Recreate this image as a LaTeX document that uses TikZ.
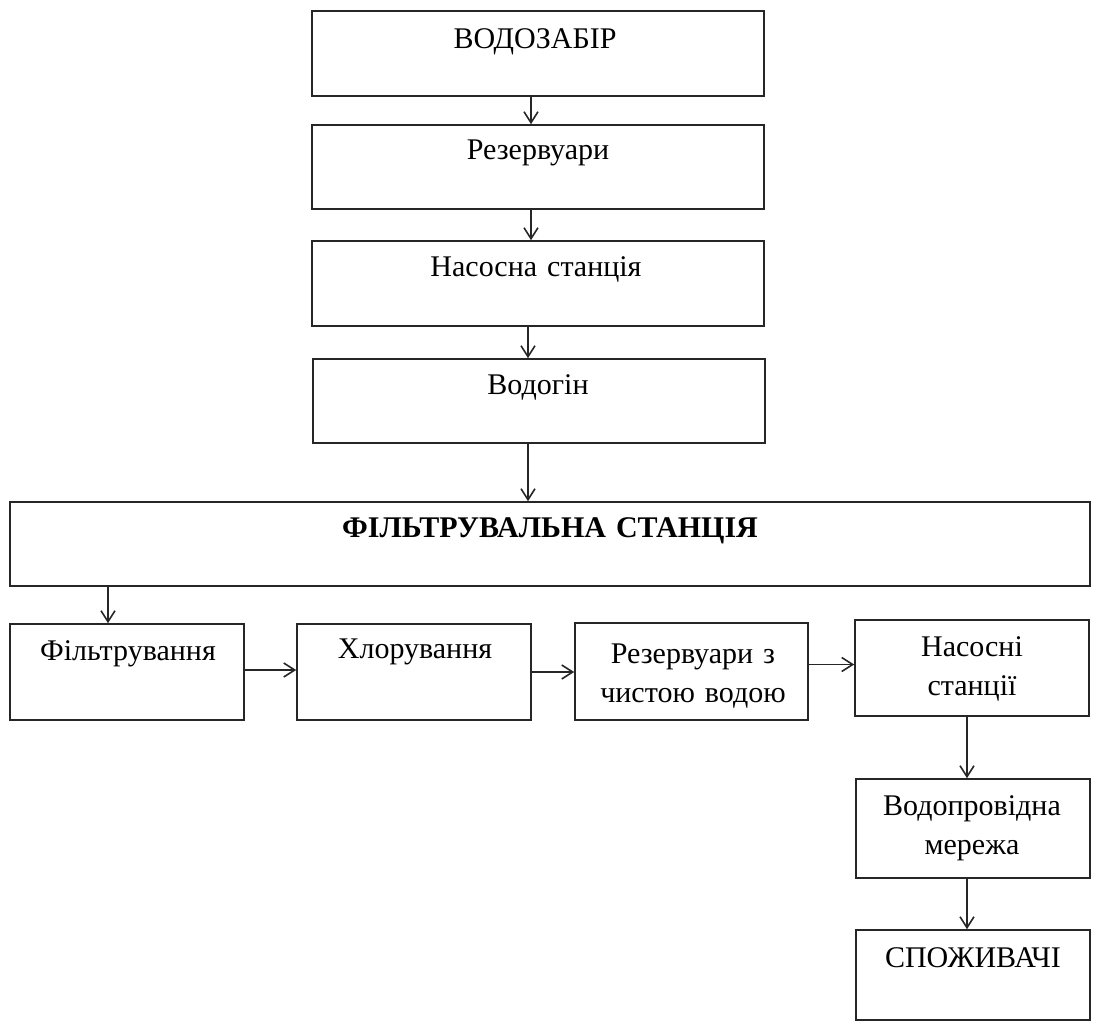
\documentclass[tikz,border=0pt]{standalone}
\usepackage{fontspec}
\setmainfont{Liberation Serif}
\usetikzlibrary{arrows.meta}

\tikzset{
  box/.style={draw=black!85, line width=0.8pt, inner sep=0pt},
  txt/.style={anchor=base, inner sep=0pt, align=center, text width=230pt,
    font=\fontsize{15}{19.5}\selectfont},
  arr/.style={draw=black!85, line width=0.8pt, -{Straight Barb[length=5.5pt,width=7pt]}}
}

\begin{document}
\begin{tikzpicture}[x=0.5pt, y=-0.5pt]
\useasboundingbox (0,0) rectangle (1093,1023);

% main line
\node[box, minimum width=226pt, minimum height=42.5pt] (b1) at (538,53.5) {};
\node[box, minimum width=226pt, minimum height=42pt] (b2) at (538,167) {};
\node[box, minimum width=226pt, minimum height=42.5pt] (b3) at (538,283.5) {};
\node[box, minimum width=226pt, minimum height=42pt] (b4) at (539,401) {};
\node[box, minimum width=540pt, minimum height=42pt] (b5) at (550,544) {};

% stations
\node[box, minimum width=117pt, minimum height=48pt] (b6) at (127,672) {};
\node[box, minimum width=117pt, minimum height=48pt] (b7) at (414,672) {};
\node[box, minimum width=116.5pt, minimum height=48.5pt] (b8) at (691.5,671.5) {};
\node[box, minimum width=117pt, minimum height=48pt] (b9) at (972,668) {};
\node[box, minimum width=117pt, minimum height=49.5pt] (b10) at (973,828.5) {};
\node[box, minimum width=117pt, minimum height=45pt] (b11) at (973,975) {};

% texts
\node[txt] (t1) at (535,48) {ВОДОЗАБІР};
\node[txt] (t2) at (538,159) {Резервуари};
\node[txt] (t3) at (536,276) {Насосна станція};
\node[txt] (t4) at (538,394) {Водогін};
\node[txt] (t5) at (550,537) {\textbf{ФІЛЬТРУВАЛЬНА СТАНЦІЯ}};
\node[txt] (t6) at (128,660) {Фільтрування};
\node[txt] (t7) at (415,658) {Хлорування};
\node[txt] (t8) at (693,663) {Резервуари з\\чистою водою};
\node[txt] (t9) at (972,656) {Насосні\\станції};
\node[txt] (t10) at (972,815) {Водопровідна\\мережа};
\node[txt] (t11) at (973,967) {СПОЖИВАЧІ};

% arrows
\draw[arr] ([xshift=-3.5pt]b1.south) -- ([xshift=-3.5pt]b2.north);
\draw[arr] ([xshift=-3.5pt]b2.south) -- ([xshift=-3.5pt]b3.north);
\draw[arr] ([xshift=-5pt]b3.south) -- ([xshift=-5pt]b3.south |- b4.north);
\draw[arr] ([xshift=-5.5pt]b4.south) -- ([xshift=-5.5pt]b4.south |- b5.north);
\draw[arr] ([xshift=-9.5pt]b6.north |- b5.south) -- ([xshift=-9.5pt]b6.north);
\draw[arr] ([yshift=1pt]b6.east) -- ([yshift=1pt]b7.west);
\draw[arr] (b7.east) -- (b7.east -| b8.west);
\draw[arr] ([yshift=3.5pt]b8.east) -- ([yshift=3.5pt]b8.east -| b9.west);
\draw[arr] ([xshift=-2.5pt]b9.south) -- ([xshift=-2.5pt]b9.south |- b10.north);
\draw[arr] ([xshift=-3pt]b10.south) -- ([xshift=-3pt]b11.north);

\end{tikzpicture}
\end{document}
